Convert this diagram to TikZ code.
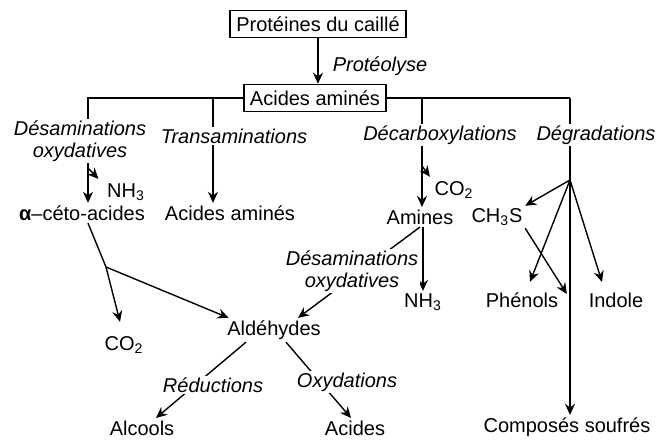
\documentclass[tikz,border=0pt]{standalone}
\usepackage{fontspec}
\setmainfont{Liberation Sans}
\usetikzlibrary{arrows.meta, positioning}

\begin{document}
\begin{tikzpicture}[x=0.5pt, y=-0.5pt, line width=0.7pt,
      font=\fontsize{10}{11}\selectfont,
      box/.style={draw, line width=0.8pt, inner xsep=3pt, inner ysep=3pt},
      prod/.style={inner sep=1pt},
      proc/.style={font=\fontsize{10}{11}\selectfont\itshape, fill=white, inner sep=1pt, align=center},
      arr/.style={-{Stealth[length=5.5pt, width=5pt]}}]
   \useasboundingbox (0,0) rectangle (658,440);
   % Boxes
   \node[box] (prot) at (318,24) {Protéines du caillé};
   \node[box] (aa) at (315,98) {Acides aminés};
   % Products
   \node[prod] (ceto) at (82,213) {\textbf{α}–céto-acides};
   \node[prod] (aa2) at (230,213) {Acides aminés};
   \node[prod] (nh3a) at (126,192) {NH\textsubscript{3}};
   \node[prod] (amin) at (420,217) {Amines};
   \node[prod] (co2b) at (454,190) {CO\textsubscript{2}};
   \node[prod] (ch3s) at (497,217) {CH\textsubscript{3}S};
   \node[prod] (nh3b) at (423,302) {NH\textsubscript{3}};
   \node[prod] (phen) at (522,300) {Phénols};
   \node[prod] (ind) at (616,300) {Indole};
   \node[prod] (co2a) at (124,345) {CO\textsubscript{2}};
   \node[prod] (ald) at (274,330) {Aldéhydes};
   \node[prod] (alc) at (142,428) {Alcools};
   \node[prod] (acid) at (355,428) {Acides};
   \node[prod] (souf) at (567,427) {Composés soufrés};
   % Branch points
   \coordinate (kT) at (213,98);
   \coordinate (kD) at (422,98);
   \coordinate (kG) at (570,98);
   \coordinate (fan) at (570,180);
   \coordinate (kC) at (106,267);
   \coordinate (sA) at (88,168);
   \coordinate (sB) at (422,166);
   % Connectors
   \draw[arr] (prot.south) -- (prot.south |- aa.north);
   \draw[arr] (aa.west) -| ([xshift=3pt]ceto.north);
   \draw[arr] (kT) -- (kT |- aa2.north);
   \draw (aa.east) -- (kG);
   \draw[arr] (kD) -- (kD |- amin.north);
   \draw[arr] (kG) -- (kG |- souf.north);
   \draw[arr] (sA) -- ([xshift=-3pt,yshift=1pt]nh3a.north west);
   \draw[arr] (sB) -- ([xshift=-1pt,yshift=1pt]co2b.north west);
   \draw ([xshift=3pt]ceto.south) -- (kC);
   \draw[arr] (kC) -- ([xshift=-2pt,yshift=6pt]co2a.north);
   \draw[arr] (kC) -- ([xshift=2pt]ald.north west);
   \draw[arr] (nh3b.north |- amin.south) -- (nh3b.north);
   \draw[arr] (amin.south) -- ([xshift=12pt]ald.north);
   \draw[arr] ([xshift=-14pt]ald.south) -- ([xshift=7pt]alc.north);
   \draw[arr] ([xshift=6pt]ald.south) -- ([xshift=-2pt]acid.north);
   \draw[arr] (fan) -- (ch3s.north east);
   \draw[arr] (fan) -- ([xshift=4pt,yshift=4pt]phen.north);
   \draw[arr] (fan) -- ([xshift=-7pt,yshift=4pt]ind.north);
   \draw[arr] (ch3s.south east) -- ([xshift=3pt,yshift=3pt]phen.east);
   % Process labels
   \node[proc] (lProt) at (380,66) {Protéolyse};
   \node[proc] (lDesA) at (80,141) {Désaminations\\oxydatives};
   \node[proc] (lTrans) at (234,136) {Transaminations};
   \node[proc] (lDecarb) at (440,135) {Décarboxylations};
   \node[proc] (lDegr) at (596,135) {Dégradations};
   \node[proc] (lDesB) at (352,271) {Désaminations\\oxydatives};
   \node[proc] (lRed) at (213,385) {Réductions};
   \node[proc] (lOxy) at (347,382) {Oxydations};
\end{tikzpicture}
\end{document}
